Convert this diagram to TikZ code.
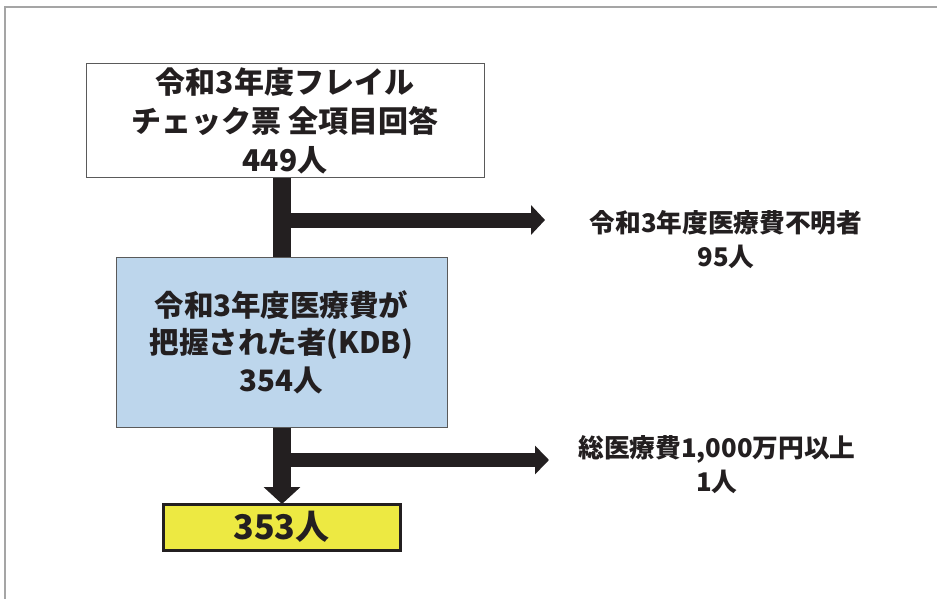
\documentclass[tikz,border=0pt]{standalone}
\usepackage{fontspec}
\setmainfont{Noto Sans CJK JP}
\usetikzlibrary{arrows.meta,calc}
\definecolor{ink}{RGB}{35,31,32}
\definecolor{framegray}{RGB}{165,165,165}
\definecolor{boxline}{RGB}{90,90,90}
\definecolor{lightblue}{RGB}{189,214,236}
\definecolor{yel}{RGB}{237,233,66}
\tikzset{
  box/.style={draw=boxline, line width=1pt, align=center, text=ink, inner sep=0pt},
  note/.style={align=center, text=ink, inner sep=0pt},
  bar/.style={draw=ink, line width=18pt},
  hbar/.style={draw=ink, line width=15pt}
}
\begin{document}
\begin{tikzpicture}[x=1pt,y=-1pt]
\useasboundingbox (0,0) rectangle (937,599);
\fill[white] (0,0) rectangle (937,599);
% frame
\draw[framegray, line width=2.5pt] (5,599) -- (5,7) -- (937,7);

% boxes
\node[box, fill=white, minimum width=398pt, minimum height=113pt,
      font=\bfseries\fontsize{30}{39}\selectfont] (b1) at (285,120.5)
  {令和3年度フレイル\\チェック票 全項目回答\\449人};
\node[box, fill=lightblue, minimum width=331pt, minimum height=170pt,
      font=\bfseries\fontsize{29.5}{37.5}\selectfont] (b2) at (281.5,342)
  {令和3年度医療費が\\把握された者(KDB)\\354人};
\node[box, draw=ink, line width=3pt, fill=yel, minimum width=237pt, minimum height=46pt,
      font=\bfseries\fontsize{34}{40}\selectfont] (b3) at (281.5,527) {353人};

% side notes
\node[note, font=\bfseries\fontsize{25.7}{34}\selectfont] (n1) at (726,240)
  {令和3年度医療費不明者\\95人};
\node[note, font=\bfseries\fontsize{25.7}{34}\selectfont] (n2) at (717,465)
  {総医療費1,000万円以上\\1人};

% connectors
\coordinate (j1) at (282,220);
\coordinate (e1) at (545,220);
\coordinate (j2) at (282,460);
\coordinate (e2) at (549,460);

\draw[bar] (b1.south -| j1) -- (b2.north -| j1);
\draw[hbar, -{Triangle[length=14pt,width=29pt]}] (j1) -- (e1);
\draw[bar, -{Triangle[length=17pt,width=36pt]}] (b2.south -| j2) -- ([yshift=-1.5pt]b3.north -| j2);
\draw[draw=ink, line width=14pt, -{Triangle[length=14pt,width=28pt]}] (j2) -- (e2);
\end{tikzpicture}
\end{document}
